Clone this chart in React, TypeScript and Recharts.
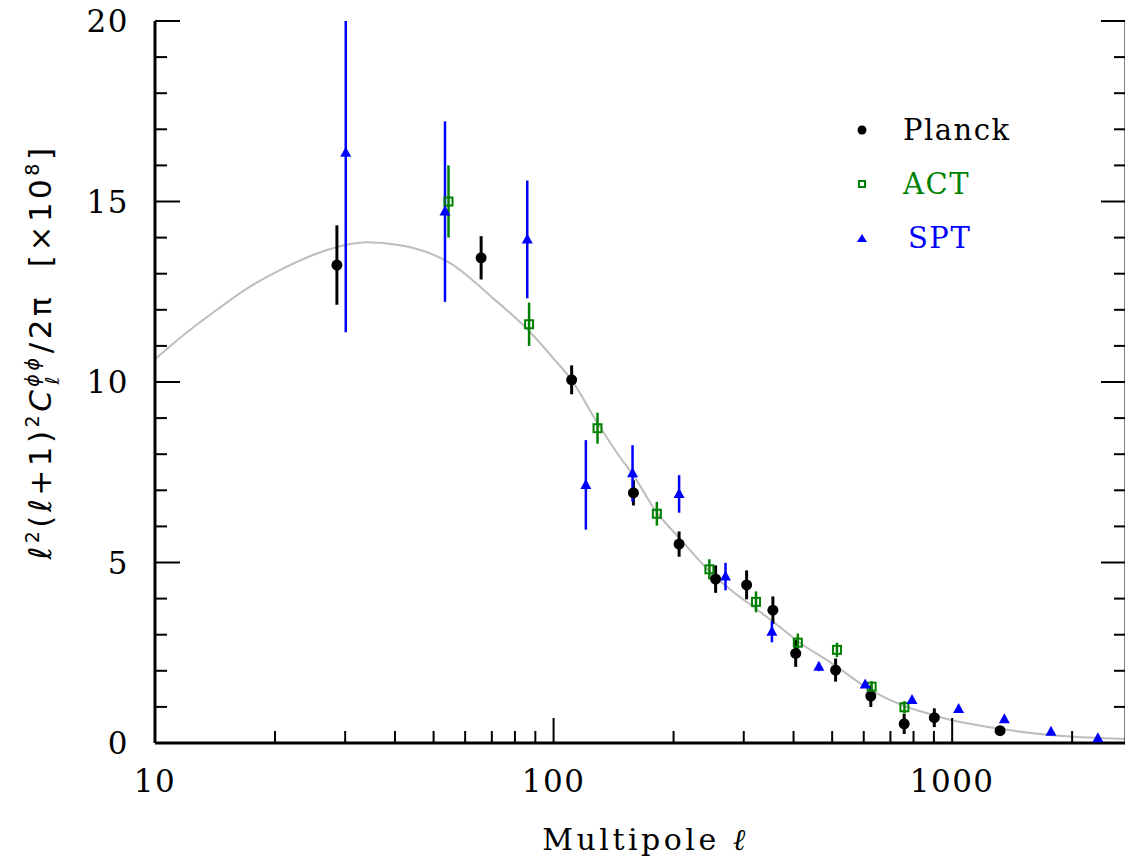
import React from "react";
import { ComposedChart, XAxis, YAxis, Line, Scatter, ErrorBar, Legend } from "recharts";

// axis ticks
const xTicks = [10, 20, 30, 40, 50, 60, 70, 80, 90, 100, 200, 300, 400, 500, 600, 700, 800, 900, 1000, 2000];
const xMajor = [10, 100, 1000];
const yTicks = [0, 1, 2, 3, 4, 5, 6, 7, 8, 9, 10, 11, 12, 13, 14, 15, 16, 17, 18, 19, 20];

// theory curve (grey)
const theoryL = [10, 11.8, 14.3, 17.3, 21, 25.5, 30.9, 34, 41.2, 49.9, 55, 70, 87, 100, 111, 128, 145, 160, 181, 206, 245, 280, 322, 369, 410, 500, 628, 759, 881, 1000, 1178, 1400, 1731, 2200, 2730];
const theoryV = [10.63, 11.3, 12.0, 12.64, 13.15, 13.56, 13.82, 13.87, 13.79, 13.53, 13.29, 12.35, 11.4, 10.65, 10.05, 8.92, 8.0, 7.35, 6.4, 5.7, 4.78, 4.22, 3.72, 3.22, 2.82, 2.2, 1.45, 1.02, 0.8, 0.63, 0.48, 0.35, 0.23, 0.15, 0.11];

// Planck
const planckL = [28.6, 65.8, 111, 158.6, 206.5, 255, 305, 355, 405, 510, 625, 758, 902, 1319];
const planckV = [13.24, 13.44, 10.06, 6.93, 5.51, 4.54, 4.38, 3.68, 2.48, 2.02, 1.3, 0.53, 0.7, 0.34];
const planckE = [1.1, 0.6, 0.4, 0.35, 0.35, 0.38, 0.4, 0.38, 0.37, 0.32, 0.3, 0.28, 0.26, 0.12];

// ACT
const actL = [54.5, 86.8, 128.9, 181.6, 246, 322, 410, 514, 628, 759];
const actV = [15.0, 11.6, 8.72, 6.35, 4.81, 3.91, 2.78, 2.58, 1.56, 0.99];
const actE = [1.0, 0.6, 0.43, 0.33, 0.28, 0.29, 0.25, 0.2, 0.15, 0.17];

// SPT  (first bar runs off the top of the frame)
const sptL = [30.1, 53.4, 85.9, 120.5, 157.8, 206.5, 270, 353, 463, 605, 793, 1038, 1352, 1770, 2321];
const sptV = [16.35, 14.72, 13.95, 7.15, 7.47, 6.9, 4.61, 3.08, 2.11, 1.62, 1.19, 0.94, 0.66, 0.31, 0.13];
const sptLo = [4.97, 2.5, 1.63, 1.24, 0.78, 0.52, 0.38, 0.29, 0.12, 0.08, 0.08, 0.06, 0.05, 0.04, 0.03];
const sptHi = [3.65, 2.5, 1.63, 1.24, 0.78, 0.52, 0.38, 0.29, 0.12, 0.08, 0.08, 0.06, 0.05, 0.04, 0.03];

const theory = theoryL.map((l, i) => ({ l, v: theoryV[i] }));
const planck = planckL.map((l, i) => ({ l, v: planckV[i], e: planckE[i] }));
const act = actL.map((l, i) => ({ l, v: actV[i], e: actE[i] }));
const spt = sptL.map((l, i) => ({ l, v: sptV[i], e: [sptLo[i], sptHi[i]] }));

const FONT = "DejaVu Serif";
const GREEN = "#008000";
const BLUE = "#0000ff";

// plot frame edges (set by the margins / axis sizes below)
const LEFT = 155;
const RIGHT = 1126;
const TOP = 21;
const BOTTOM = 743;

const makeTick = (side: string) => (props: any) => {
  const { x, y, payload } = props;
  const v = payload.value;
  if (side === "bottom" || side === "top") {
    const major = xMajor.includes(v);
    const len = major ? 25 : 12;
    const y0 = side === "bottom" ? BOTTOM : TOP;
    const dir = side === "bottom" ? -1 : 1;
    return (
      <g>
        <line x1={x} y1={y0} x2={x} y2={y0 + dir * len} stroke="#000" strokeWidth={2} />
        {side === "bottom" && major && (
          <text x={x} y={y0 + 49} textAnchor="middle" fontFamily={FONT} fontSize={31} fill="#000" letterSpacing={1.5}>
            {v}
          </text>
        )}
      </g>
    );
  }
  const major = v % 5 === 0;
  const len = major ? 25 : 12;
  const x0 = side === "left" ? LEFT : RIGHT;
  const dir = side === "left" ? 1 : -1;
  return (
    <g>
      <line x1={x0} y1={y} x2={x0 + dir * len} y2={y} stroke="#000" strokeWidth={2} />
      {side === "left" && major && (
        <text x={x0 - 26} y={y + 11} textAnchor="end" fontFamily={FONT} fontSize={31} fill="#000" letterSpacing={1.5}>
          {v}
        </text>
      )}
    </g>
  );
};

const Dot = (props: any) => <circle cx={props.cx} cy={props.cy} r={5.5} fill="#000" />;
const Square = (props: any) => (
  <rect x={props.cx - 4} y={props.cy - 4} width={8} height={8} fill="none" stroke={GREEN} strokeWidth={2} />
);
const Tri = (props: any) => (
  <polygon
    points={`${props.cx - 5.5},${props.cy + 4} ${props.cx + 5.5},${props.cy + 4} ${props.cx},${props.cy - 6}`}
    fill={BLUE}
  />
);

const legendItems = [
  { name: "Planck", color: "#000", shape: "dot", pad: 0 },
  { name: "ACT", color: GREEN, shape: "square", pad: 0 },
  { name: "SPT", color: BLUE, shape: "tri", pad: 5 },
];

const renderLegend = () => (
  <div style={{ fontFamily: FONT }}>
    {legendItems.map((it) => (
      <div key={it.name} style={{ display: "flex", alignItems: "center", height: 54 }}>
        <svg width={24} height={24}>
          {it.shape === "dot" && <circle cx={12} cy={12} r={4.5} fill={it.color} />}
          {it.shape === "square" && <rect x={9} y={9} width={6} height={6} fill="none" stroke={it.color} strokeWidth={2} />}
          {it.shape === "tri" && <polygon points="7,16 17,16 12,8" fill={it.color} />}
        </svg>
        <span style={{ marginLeft: 29 + it.pad, fontSize: 29, letterSpacing: 1.5, color: it.color }}>{it.name}</span>
      </div>
    ))}
  </div>
);

const YLabel = () => (
  <text
    transform="translate(51, 352) rotate(-90)"
    textAnchor="middle"
    fontFamily="DejaVu Sans"
    fontSize={31}
    letterSpacing={3.5}
    fill="#000"
    style={{ whiteSpace: "pre" }}
  >
    <tspan fontStyle="italic">ℓ</tspan>
    <tspan dy={-12} fontSize={19}>2</tspan>
    <tspan dy={12}>(</tspan>
    <tspan fontStyle="italic">ℓ</tspan>
    <tspan>+1)</tspan>
    <tspan dy={-12} fontSize={19}>2</tspan>
    <tspan dy={12} fontStyle="italic">C</tspan>
    <tspan dy={-12} fontSize={19} fontStyle="italic">ϕϕ</tspan>
    <tspan dx={-30} dy={20} fontSize={19} fontStyle="italic">ℓ</tspan>
    <tspan dx={20} dy={-8}>/2π  [×10</tspan>
    <tspan dy={-12} fontSize={19}>8</tspan>
    <tspan dy={12}>]</tspan>
  </text>
);

const XLabel = () => (
  <text
    x={(LEFT + RIGHT) / 2 + 5}
    y={BOTTOM + 107}
    textAnchor="middle"
    fontFamily={FONT}
    fontSize={30}
    letterSpacing={3.5}
    fill="#000"
  >
    Multipole <tspan fontStyle="italic">ℓ</tspan>
  </text>
);

const axisLine = { stroke: "#000", strokeWidth: 3 };

export default function App() {
  return (
    <div style={{ position: "absolute", left: 0, top: 0, width: 1125, height: 858, overflow: "hidden", background: "#fff" }}>
      <ComposedChart width={1127} height={858} margin={{ top: 21, right: 0, bottom: 0, left: 0 }}>
        <XAxis
          xAxisId="b"
          type="number"
          dataKey="l"
          scale="log"
          domain={[10, 2730]}
          allowDataOverflow
          ticks={xTicks}
          interval={0}
          orientation="bottom"
          height={115}
          tickSize={0}
          tickMargin={0}
          tickLine={false}
          axisLine={axisLine}
          tick={makeTick("bottom")}
          label={{ content: XLabel }}
        />
        <XAxis
          xAxisId="t"
          type="number"
          dataKey="l"
          scale="log"
          domain={[10, 2730]}
          allowDataOverflow
          ticks={xTicks}
          interval={0}
          orientation="top"
          height={0}
          tickSize={0}
          tickMargin={0}
          tickLine={false}
          axisLine={axisLine}
          tick={makeTick("top")}
        />
        <YAxis
          yAxisId="l"
          type="number"
          domain={[0, 20]}
          allowDataOverflow
          ticks={yTicks}
          interval={0}
          orientation="left"
          width={155}
          tickSize={0}
          tickMargin={0}
          tickLine={false}
          axisLine={axisLine}
          tick={makeTick("left")}
          label={{ content: YLabel }}
        />
        <YAxis
          yAxisId="r"
          type="number"
          domain={[0, 20]}
          allowDataOverflow
          ticks={yTicks}
          interval={0}
          orientation="right"
          width={1}
          tickSize={0}
          tickMargin={0}
          tickLine={false}
          axisLine={axisLine}
          tick={makeTick("right")}
        />
        <Legend
          layout="vertical"
          align="center"
          verticalAlign="middle"
          content={renderLegend}
          wrapperStyle={{ top: 103, left: 850, width: 240 }}
        />
        <Line
          xAxisId="b"
          yAxisId="l"
          data={theory}
          dataKey="v"
          type="monotone"
          stroke="#bdbdbd"
          strokeWidth={2}
          dot={false}
          activeDot={false}
          legendType="none"
          isAnimationActive={false}
        />
        <Scatter xAxisId="b" yAxisId="l" name="Planck" data={planck} dataKey="v" shape={Dot} isAnimationActive={false}>
          <ErrorBar dataKey="e" direction="y" width={0} stroke="#000" strokeWidth={3} />
        </Scatter>
        <Scatter xAxisId="b" yAxisId="l" name="ACT" data={act} dataKey="v" shape={Square} isAnimationActive={false}>
          <ErrorBar dataKey="e" direction="y" width={0} stroke={GREEN} strokeWidth={2.5} />
        </Scatter>
        <Scatter xAxisId="b" yAxisId="l" name="SPT" data={spt} dataKey="v" shape={Tri} isAnimationActive={false}>
          <ErrorBar dataKey="e" direction="y" width={0} stroke={BLUE} strokeWidth={2.5} />
        </Scatter>
      </ComposedChart>
    </div>
  );
}
